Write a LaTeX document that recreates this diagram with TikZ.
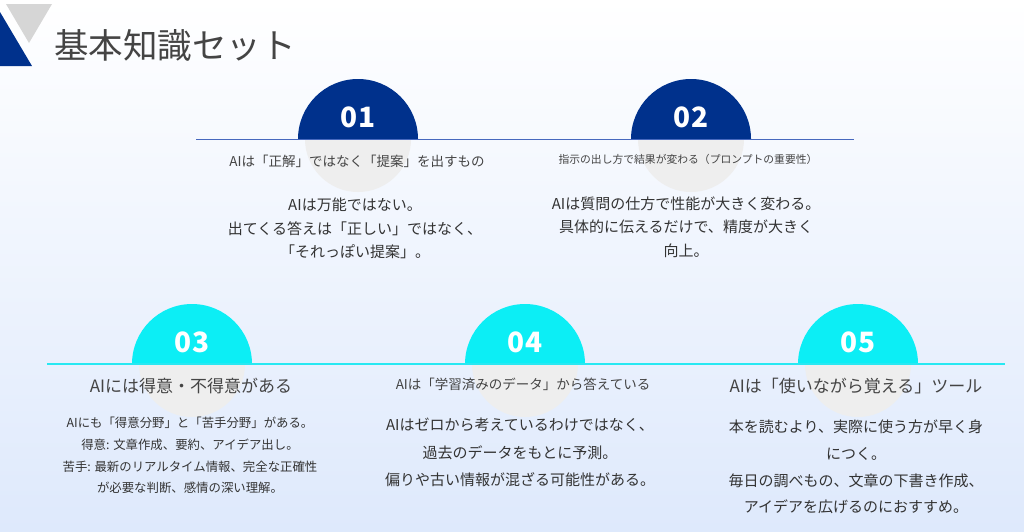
\documentclass[tikz,border=0pt]{standalone}
\usepackage{fontspec}
\newfontfamily\jpsans{Noto Sans CJK JP}
\definecolor{darkblue}{RGB}{0,49,140}
\definecolor{cyanblue}{RGB}{12,238,245}
\definecolor{lineblue}{RGB}{70,104,190}
\definecolor{linecyan}{RGB}{40,232,242}
\definecolor{bgblue}{RGB}{222,233,252}
\definecolor{circgray}{RGB}{238,238,238}
\definecolor{markgray}{RGB}{214,214,214}
\definecolor{textgray}{RGB}{51,51,51}
\definecolor{headgray}{RGB}{68,68,68}
\tikzset{
  numtext/.style={text=white, font={\jpsans\bfseries\fontsize{28}{28}\selectfont}},
  head/.style={text=headgray, inner sep=0pt},
  body/.style={text=textgray, align=center, inner sep=0pt},
}
\begin{document}
\begin{tikzpicture}[x=1pt, y=-1pt]
        \useasboundingbox (0,0) rectangle (1024,531);
        \shade [top color=white, bottom color=bgblue] (0,0) rectangle (1024,531);
        % corner marks and title
        \fill [markgray] (6,4) -- (52,4) -- (29,43) -- cycle;
        \fill [darkblue] (0,12) -- (32,66) -- (0,66) -- cycle;
        \node (title) at (54,45) [anchor=west, text=headgray, inner sep=0pt, font={\jpsans\fontsize{34.5}{34.5}\selectfont}] {基本知識セット};
        % half circles
        \foreach \cx/\col in {358/darkblue, 691/darkblue} {
          \fill [circgray] (\cx-53,139) arc [start angle=180, end angle=0, radius=53] -- cycle;
          \fill [\col] (\cx-60,139) arc [start angle=180, end angle=360, radius=60] -- cycle;
        }
        \foreach \cx/\col in {192/cyanblue, 525/cyanblue, 858/cyanblue} {
          \fill [circgray] (\cx-53,364) arc [start angle=180, end angle=0, radius=53] -- cycle;
          \fill [\col] (\cx-60,364) arc [start angle=180, end angle=360, radius=60] -- cycle;
        }
        \coordinate (topl) at (196,139.5);
        \coordinate (topr) at (854,139.5);
        \coordinate (botl) at (47,364);
        \coordinate (botr) at (1005,364);
        \draw [lineblue, line width=1.4pt] (topl) -- (topr);
        \draw [linecyan, line width=1.4pt] (botl) -- (botr);
        % numbers
        \node (n1) at (358,117) [numtext] {01};
        \node (n2) at (691,117) [numtext] {02};
        \node (n3) at (192,342) [numtext] {03};
        \node (n4) at (525,342) [numtext] {04};
        \node (n5) at (858,342) [numtext] {05};
        % headings
        \node (h1) at (357,161) [head, font={\jpsans\fontsize{13.5}{13.5}\selectfont}] {AIは「正解」ではなく「提案」を出すもの};
        \node (h2) at (688,159) [head, font={\jpsans\fontsize{10.8}{10.8}\selectfont}] {指示の出し方で結果が変わる（プロンプトの重要性）};
        \node (h3) at (191,386) [head, font={\jpsans\fontsize{17}{17}\selectfont}] {AIには得意・不得意がある};
        \node (h4) at (523,384) [head, font={\jpsans\fontsize{13.5}{13.5}\selectfont}] {AIは「学習済みのデータ」から答えている};
        \node (h5) at (856,386) [head, font={\jpsans\fontsize{17}{17}\selectfont}] {AIは「使いながら覚える」ツール};
        % body texts
        \node (b1) at (355,228.5) [body, font={\jpsans\fontsize{15}{23.5}\selectfont}] {AIは万能ではない。\\出てくる答えは「正しい」ではなく、\\「それっぽい提案」。};
        \node (b2) at (686,227) [body, font={\jpsans\fontsize{15}{23.5}\selectfont}] {AIは質問の仕方で性能が大きく変わる。\\具体的に伝えるだけで、精度が大きく\\向上。};
        \node (b3) at (190,455.5) [body, font={\jpsans\fontsize{12.4}{21.7}\selectfont}] {AIにも「得意分野」と「苦手分野」がある。\\得意: 文章作成、要約、アイデア出し。\\苦手: 最新のリアルタイム情報、完全な正確性\\が必要な判断、感情の深い理解。};
        \node (b4) at (520,452.5) [body, font={\jpsans\fontsize{15}{27.5}\selectfont}] {AIはゼロから考えているわけではなく、\\過去のデータをもとに予測。\\偏りや古い情報が混ざる可能性がある。};
        \node (b5) at (856,467) [body, font={\jpsans\fontsize{15}{26.7}\selectfont}] {本を読むより、実際に使う方が早く身\\につく。\\毎日の調べもの、文章の下書き作成、\\アイデアを広げるのにおすすめ。};
      \end{tikzpicture}
\end{document}
